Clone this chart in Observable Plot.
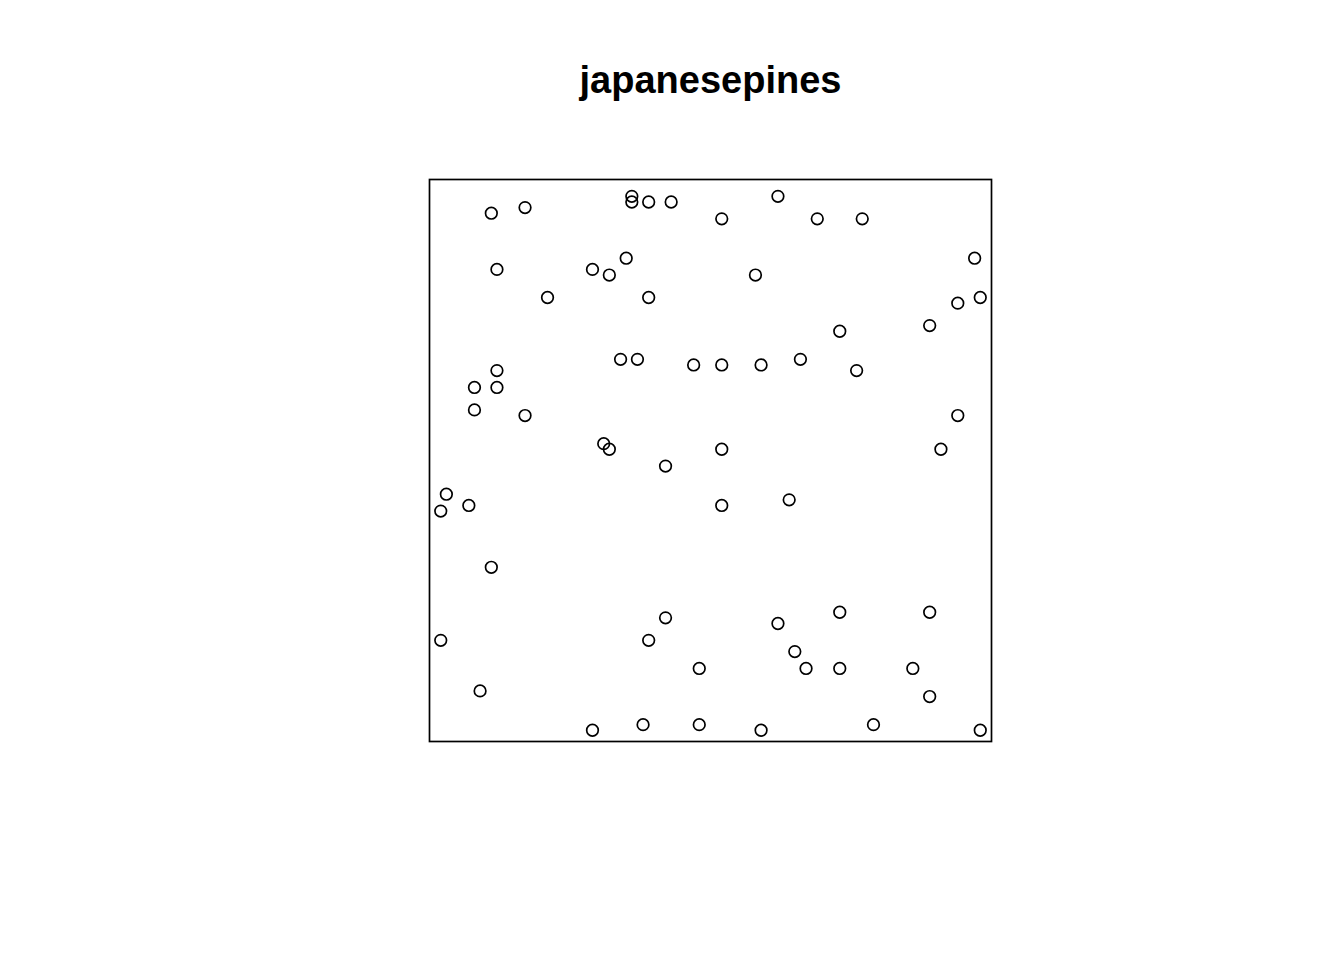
<!DOCTYPE html>
<html>
<head>
<meta charset="utf-8">
<script src="https://cdn.jsdelivr.net/npm/d3@7"></script>
<script src="https://cdn.jsdelivr.net/npm/@observablehq/plot@0.6"></script>
<style>
  html, body { margin: 0; padding: 0; background: #fff; }
</style>
</head>
<body>
<div id="chart"></div>
<script>
const title = "japanesepines";
const xs = [0.11,0.17,0.36,0.36,0.39,0.43,0.52,0.62,0.69,0.77,
            0.97,0.12,0.29,0.32,0.35,0.58,0.21,0.39,0.94,0.98,
            0.73,0.89,0.34,0.37,0.47,0.52,0.59,0.66,0.76,0.12,
            0.08,0.12,0.08,0.17,0.94,0.31,0.32,0.52,0.42,0.91,
            0.03,0.02,0.07,0.52,0.64,0.11,0.42,0.39,0.02,0.62,
            0.73,0.89,0.65,0.48,0.67,0.73,0.86,0.89,0.09,0.29,
            0.38,0.48,0.59,0.79,0.98];
const ys = [0.94,0.95,0.97,0.96,0.96,0.96,0.93,0.97,0.93,0.93,
            0.86,0.84,0.84,0.83,0.86,0.83,0.79,0.79,0.78,0.79,
            0.73,0.74,0.68,0.68,0.67,0.67,0.67,0.68,0.66,0.66,
            0.63,0.63,0.59,0.58,0.58,0.53,0.52,0.52,0.49,0.52,
            0.44,0.41,0.42,0.42,0.43,0.31,0.22,0.18,0.18,0.21,
            0.23,0.23,0.16,0.13,0.13,0.13,0.13,0.08,0.09,0.02,
            0.03,0.03,0.02,0.03,0.02];
const pts = xs.map((x, i) => ({x, y: ys[i]}));

const chart = Plot.plot({
  width: 1344,
  height: 960,
  marginLeft: 429,
  marginRight: 353,
  marginTop: 179,
  marginBottom: 219,
  x: {domain: [0, 1], axis: null},
  y: {domain: [0, 1], axis: null},
  style: {fontFamily: "'Liberation Sans', Arial, sans-serif", background: "#fff"},
  marks: [
    Plot.frame({stroke: "black", strokeWidth: 1.7}),
    Plot.dot(pts, {x: "x", y: "y", r: 5.8, stroke: "black", strokeWidth: 1.7, fill: "none"}),
    Plot.text([title], {
      frameAnchor: "top", dy: -87, lineAnchor: "bottom",
      text: d => d, fontSize: 38, fontWeight: "bold", fill: "black"
    })
  ]
});
document.getElementById("chart").appendChild(chart);
</script>
</body>
</html>
